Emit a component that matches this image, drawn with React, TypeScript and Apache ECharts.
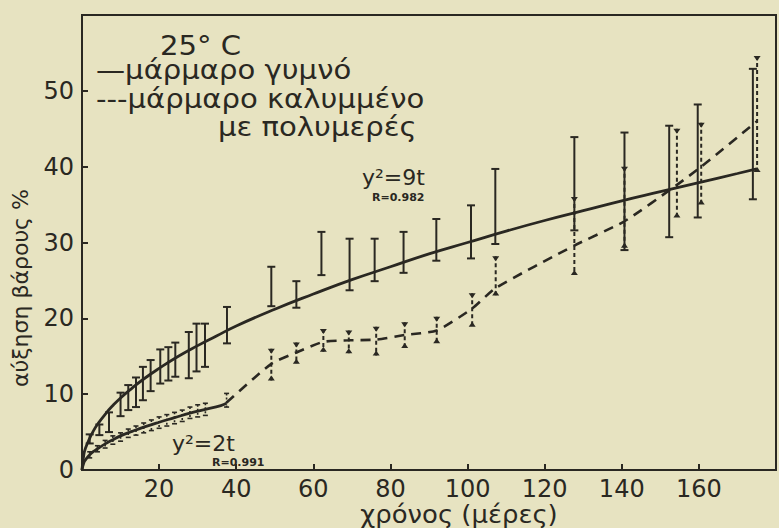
import React, { useEffect, useRef } from "react";
import * as echarts from "echarts";

// ---- data ----
const xTickValues = [20, 40, 60, 80, 100, 120, 140, 160];
const yTickValues = [0, 10, 20, 30, 40, 50];

// fitted curve y^2 = 9t (bare marble)
const fitBareT = [0, 0.5, 1, 2, 3, 4, 6, 8, 10, 13, 16, 20, 25, 30, 35, 40, 50, 60, 70, 80, 90, 100, 110, 120, 130, 140, 150, 160, 170, 175];
const fitBareY = [0, 2.1, 3.0, 4.2, 5.2, 6.0, 7.35, 8.5, 9.5, 10.8, 12.0, 13.4, 15.0, 16.4, 17.7, 19.0, 21.2, 23.2, 25.1, 26.8, 28.5, 30.0, 31.5, 32.9, 34.2, 35.5, 36.7, 37.9, 39.1, 39.7];

// fitted curve y^2 = 2t (coated marble, early stage)
const fitCoatT = [0, 0.5, 1, 2, 3, 4, 6, 8, 10, 13, 16, 20, 24, 28, 32, 36, 37.5];
const fitCoatY = [0, 1.0, 1.4, 2.0, 2.45, 2.8, 3.45, 4.0, 4.5, 5.1, 5.65, 6.3, 6.9, 7.5, 8.0, 8.5, 8.8];

// coated marble, measured (dashed line)
const coatedT = [37.5, 49.1, 55.6, 62.6, 69.2, 76.3, 83.7, 92.0, 101.2, 107.3, 127.7, 140.7, 154.3, 160.6, 175.1];
const coatedY = [8.9, 14.0, 15.5, 16.9, 17.1, 17.2, 17.8, 18.4, 21.3, 24.0, 29.6, 32.8, 37.6, 40.0, 46.0];

// bare marble error bars
const bareBarT = [2.0, 4.5, 7.0, 10.0, 12.0, 14.0, 15.8, 17.8, 20.3, 22.4, 24.2, 27.7, 29.7, 31.9, 37.6, 49.1, 55.6, 62.1, 69.4, 75.9, 83.4, 91.9, 100.9, 107.2, 127.7, 140.7, 152.3, 159.7, 174.0];
const bareBarLow = [3.5, 4.6, 5.0, 7.1, 7.9, 8.3, 9.2, 10.4, 11.4, 11.8, 12.3, 12.1, 13.0, 13.6, 16.7, 21.6, 21.4, 25.7, 23.7, 24.9, 26.0, 27.6, 27.9, 29.8, 31.6, 29.0, 30.7, 33.3, 35.7];
const bareBarHigh = [4.7, 6.0, 7.6, 10.2, 11.2, 12.2, 13.6, 14.5, 15.9, 16.2, 16.8, 18.2, 19.3, 19.3, 21.5, 26.8, 24.9, 31.4, 30.5, 30.5, 31.4, 33.1, 34.9, 39.7, 43.9, 44.5, 45.4, 48.2, 52.9];

// coated marble error bars (dashed)
const coatedBarT = [49.1, 55.6, 62.6, 69.2, 76.3, 83.7, 92.0, 101.2, 107.3, 127.7, 140.7, 154.3, 160.6, 175.1];
const coatedBarLow = [11.8, 14.0, 15.6, 15.4, 15.1, 16.1, 16.7, 18.9, 23.0, 25.7, 29.3, 33.3, 35.0, 39.3];
const coatedBarHigh = [16.0, 16.8, 18.6, 18.4, 18.9, 19.5, 20.2, 23.3, 28.2, 36.0, 40.0, 45.0, 45.8, 54.6];

// coated marble early error bars (dotted)
const earlyBarT = [2, 4, 6, 8, 10, 12, 14, 16, 18, 20, 22, 24, 26, 28, 30, 32, 37.5];
const earlyBarLow = [1.6, 2.4, 2.9, 3.4, 3.8, 4.3, 4.6, 4.9, 5.2, 5.5, 5.8, 6.1, 6.4, 6.8, 7.0, 7.2, 8.3];
const earlyBarHigh = [2.4, 3.2, 3.9, 4.5, 4.9, 5.4, 5.8, 6.2, 6.6, 7.0, 7.3, 7.6, 7.9, 8.3, 8.6, 8.8, 10.1];

const INK = "#2a2822";
const BG = "#e7e3c1";
const FONT = "DejaVu Sans";

function barRenderer(kind: "solid" | "dashed" | "dotted") {
  return (params: any, api: any) => {
    const t = api.value(0);
    const lo = api.value(1);
    const hi = api.value(2);
    const pTop = api.coord([t, hi]);
    const pBot = api.coord([t, lo]);
    const x = pTop[0];
    const yt = pTop[1];
    const yb = pBot[1];
    const children: any[] = [];
    if (kind === "solid") {
      children.push({ type: "line", shape: { x1: x, y1: yt, x2: x, y2: yb }, style: { stroke: INK, lineWidth: 2 } });
      children.push({ type: "line", shape: { x1: x - 4, y1: yt, x2: x + 4, y2: yt }, style: { stroke: INK, lineWidth: 2 } });
      children.push({ type: "line", shape: { x1: x - 4, y1: yb, x2: x + 4, y2: yb }, style: { stroke: INK, lineWidth: 2 } });
    } else if (kind === "dashed") {
      children.push({ type: "line", shape: { x1: x, y1: yt, x2: x, y2: yb }, style: { stroke: INK, lineWidth: 2, lineDash: [4, 3] } });
      children.push({ type: "polygon", shape: { points: [[x - 3.5, yt], [x + 3.5, yt], [x, yt + 5]] }, style: { fill: INK } });
      children.push({ type: "polygon", shape: { points: [[x - 3.5, yb], [x + 3.5, yb], [x, yb - 5]] }, style: { fill: INK } });
    } else {
      children.push({ type: "line", shape: { x1: x, y1: yt, x2: x, y2: yb }, style: { stroke: INK, lineWidth: 1.6, lineDash: [2, 2] } });
      children.push({ type: "line", shape: { x1: x - 2.5, y1: yt, x2: x + 2.5, y2: yt }, style: { stroke: INK, lineWidth: 1.6 } });
      children.push({ type: "line", shape: { x1: x - 2.5, y1: yb, x2: x + 2.5, y2: yb }, style: { stroke: INK, lineWidth: 1.6 } });
    }
    return { type: "group", children };
  };
}

function txt(text: string, x: number, y: number, size: number, opts: any = {}) {
  return {
    type: "text",
    x,
    y,
    scaleX: opts.scaleX ?? 1,
    rotation: opts.rotation ?? 0,
    silent: true,
    style: {
      text,
      x: 0,
      y: 0,
      fill: INK,
      font: `${opts.weight ?? "normal"} ${size}px "${FONT}"`,
      align: opts.align ?? "left",
      verticalAlign: "middle",
    },
  };
}

export default function App() {
  const ref = useRef<HTMLDivElement>(null);
  useEffect(() => {
    if (!ref.current) return;
    const chart = echarts.init(ref.current, null, { renderer: "svg" });
    const option: any = {
      animation: false,
      backgroundColor: BG,
      grid: {
        left: 82,
        right: -4,
        top: 15,
        bottom: 58,
        show: true,
        borderColor: INK,
        borderWidth: 2,
        backgroundColor: "transparent",
      },
      xAxis: {
        type: "value",
        min: 0,
        max: 180,
        interval: 20,
        axisLine: { show: true, onZero: false, lineStyle: { color: INK, width: 2 } },
        axisTick: { show: true, inside: true, length: 6, lineStyle: { color: INK, width: 2 } },
        splitLine: { show: false },
        axisLabel: {
          color: INK,
          fontFamily: FONT,
          fontSize: 24,
          margin: 7,
          formatter: (v: number) => (xTickValues.includes(v) ? String(v) : ""),
        },
      },
      yAxis: {
        type: "value",
        min: 0,
        max: 60,
        interval: 10,
        axisLine: { show: true, onZero: false, lineStyle: { color: INK, width: 2 } },
        axisTick: { show: true, inside: true, length: 6, lineStyle: { color: INK, width: 2 } },
        splitLine: { show: false },
        axisLabel: {
          color: INK,
          fontFamily: FONT,
          fontSize: 24,
          margin: 8,
          padding: [0, 0, 10, 0],
          formatter: (v: number) => (yTickValues.includes(v) ? String(v) : ""),
        },
      },
      series: [
        {
          type: "line",
          name: "fit9",
          data: fitBareT.map((t, i) => [t, fitBareY[i]]),
          smooth: true,
          showSymbol: false,
          lineStyle: { color: INK, width: 2.8 },
          z: 3,
        },
        {
          type: "line",
          name: "fit2",
          data: fitCoatT.map((t, i) => [t, fitCoatY[i]]),
          smooth: true,
          showSymbol: false,
          lineStyle: { color: INK, width: 2.8 },
          z: 3,
        },
        {
          type: "line",
          name: "coated",
          data: coatedT.map((t, i) => [t, coatedY[i]]),
          smooth: 0.2,
          showSymbol: false,
          lineStyle: { color: INK, width: 2.6, type: [10, 7] },
          z: 3,
        },
        {
          type: "custom",
          name: "bareBars",
          data: bareBarT.map((t, i) => [t, bareBarLow[i], bareBarHigh[i]]),
          encode: { x: 0, y: [1, 2] },
          renderItem: barRenderer("solid"),
          z: 4,
        },
        {
          type: "custom",
          name: "coatedBars",
          data: coatedBarT.map((t, i) => [t, coatedBarLow[i], coatedBarHigh[i]]),
          encode: { x: 0, y: [1, 2] },
          renderItem: barRenderer("dashed"),
          z: 4,
        },
        {
          type: "custom",
          name: "earlyBars",
          data: earlyBarT.map((t, i) => [t, earlyBarLow[i], earlyBarHigh[i]]),
          encode: { x: 0, y: [1, 2] },
          renderItem: barRenderer("dotted"),
          z: 4,
        },
      ],
      graphic: [
        txt("25° C", 160, 46, 26, { scaleX: 1.12 }),
        txt("—μάρμαρο γυμνό", 96, 70, 26, { scaleX: 1.12 }),
        txt("---μάρμαρο καλυμμένο", 96, 99, 26, { scaleX: 1.12 }),
        txt("με πολυμερές", 218, 127, 26, { scaleX: 1.12 }),
        txt("y²=9t", 362, 177, 22),
        txt("R=0.982", 372, 197, 11, { weight: "bold" }),
        txt("y²=2t", 172, 443, 22),
        txt("R=0.991", 212, 462, 11, { weight: "bold" }),
        txt("χρόνος (μέρες)", 459, 515, 24, { align: "center", scaleX: 1.08 }),
        txt("αύξηση βάρους %", 20, 288, 22, { align: "center", rotation: Math.PI / 2 }),
      ],
    };
    chart.setOption(option);
    return () => chart.dispose();
  }, []);
  return (
    <div
      ref={ref}
      style={{ position: "fixed", left: 0, top: 0, width: 779, height: 528, background: BG }}
    />
  );
}
